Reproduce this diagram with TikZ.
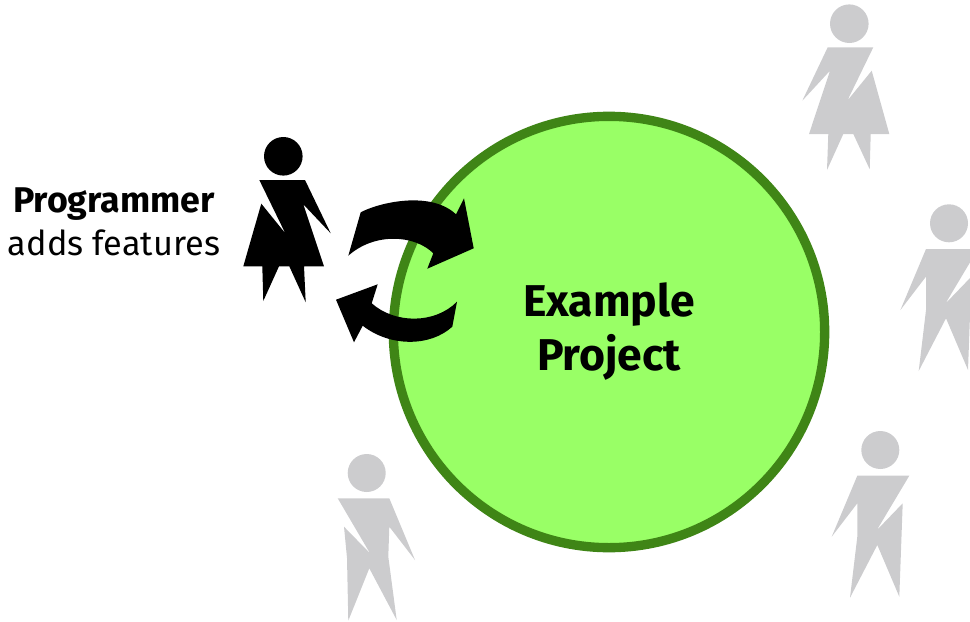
\documentclass[tikz,border=0pt]{standalone}
\usepackage{fontspec}
\setmainfont{Fira Sans}
\definecolor{fade}{HTML}{CCCCCE}
\definecolor{ringgreen}{HTML}{3F8516}
\definecolor{fillgreen}{HTML}{99FF66}
\newcommand{\malefig}[3]{%
  \begin{scope}[shift={(#1,#2)},fill=#3]
    \fill (880.3,450) circle (19);
    \fill (857.3,475.7) -- (909.3,475.7) -- (876.7,530.3) -- (902.7,503.3) -- (899.3,596.7)
      -- (877.3,545) -- (850,597.7) -- (857.3,536.7) -- (857.3,503.3) -- (831.7,536.7) -- cycle;
  \end{scope}}
\begin{document}
\begin{tikzpicture}[x=0.75pt,y=-0.75pt,
  project/.style={circle,draw=ringgreen,fill=fillgreen,line width=7pt,minimum size=323.5pt,inner sep=0pt,
    align=center,font=\fontsize{33.4}{40.5}\selectfont\bfseries},
  caption/.style={align=center,inner sep=0pt,font=\fontsize{25.7}{32}\selectfont}]
\useasboundingbox (0,0) rectangle (970,621);
\clip (0,0) rectangle (970,621);
\node[project] (proj) at (609,332) {Example\\Project};
\node[caption] (prog) at (114,222) {{\fontsize{26.8}{32}\selectfont\textbf{Programmer}}\\adds features};
% programmer
\fill[black] (283.3,156.3) circle (19.3);
\fill[black] (259.3,180) -- (305,180) -- (330.7,233.3) -- (303.3,204.3) -- (324,266.3) -- (304,266.3)
  -- (305.7,302.3) -- (289.3,266.3) -- (279,266.3) -- (263.3,301) -- (262.3,266.3)
  -- (243.3,266.3) -- (261.3,203.7) -- (285.3,233.3) -- cycle;
% top right figure
\fill[fade] (849.3,23.7) circle (19.3);
\fill[fade] (827.7,47.3) -- (873.3,47.3) -- (847.3,100.7) -- (871.7,70.7) -- (889.3,134) -- (870.7,134)
  -- (869.7,169.3) -- (853.3,134) -- (843.3,134) -- (827,170) -- (828.3,134)
  -- (809,134) -- (830,70.7) -- (802.3,100.7) -- cycle;
\malefig{0}{0}{fade}
\malefig{68.7}{-226.7}{fade}
% bottom figure
\fill[fade] (366.7,473) circle (19);
\fill[fade] (337.7,498.3) -- (389.3,498.3) -- (415,560) -- (389.3,526.7) -- (388.3,556.7) -- (396.7,620)
  -- (369.3,568.3) -- (348.3,620.7) -- (347,558) -- (344,526.7) -- (370,553.3) -- cycle;
% exchange arrows
\fill[black] (348.3,255.7) -- (360.7,212.3) .. controls (378,203) and (430,190) .. (456,214.3)
  -- (464,198.3) -- (473.7,248.3) -- (427.3,268.7) -- (433.3,253.3)
  .. controls (415,235) and (375,232) .. cycle;
\fill[black] (457,301.7) -- (452.3,326.7) .. controls (430,347) and (390,347) .. (362.7,325.7)
  -- (354,342.3) -- (336,299.7) -- (377.7,284.3) -- (371.7,303.3)
  .. controls (395,324) and (435,324) .. cycle;
\end{tikzpicture}
\end{document}
